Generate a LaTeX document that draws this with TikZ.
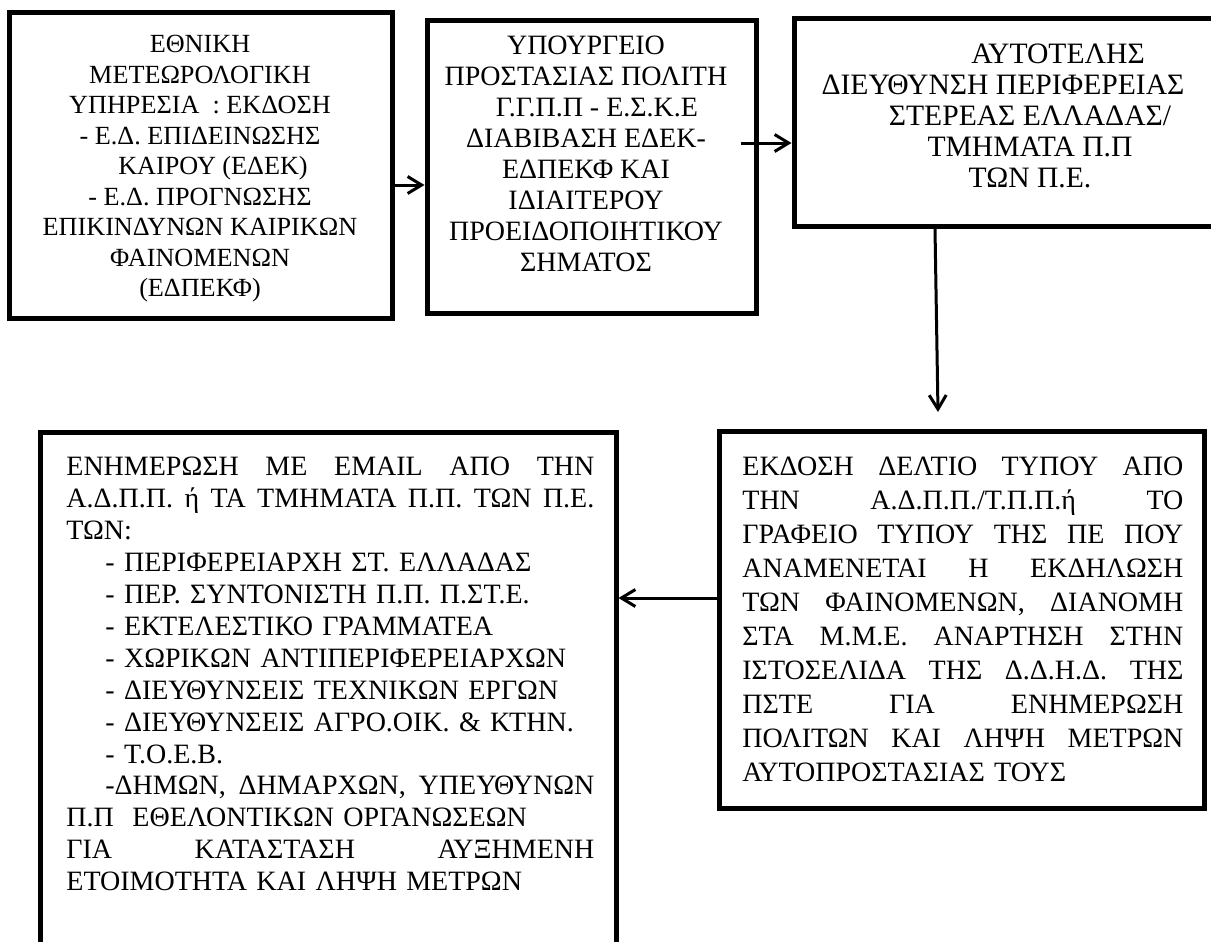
\documentclass[tikz,border=0pt]{standalone}
\usepackage{fontspec}
\setmainfont{Liberation Serif}
\usetikzlibrary{positioning,arrows.meta}

% one justified line: words are spread with \hfill
\newcommand{\jline}[1]{\hbox to \hsize{#1}}

\tikzset{
  panel/.style={draw, line width=2.5pt, inner sep=0pt},
  flow/.style={line width=1.5pt, -{Straight Barb[length=7pt,width=8.5pt]}},
  txt/.style 2 args={inner sep=0pt, font=\fontsize{#1}{#2}\selectfont},
}

\begin{document}
\begin{tikzpicture}[x=0.5pt, y=-0.5pt]
    \useasboundingbox (0,0) rectangle (1211,942);
    \clip (0,0) rectangle (1211,942);

    % Boxes
    \node[panel, minimum width=191.5pt, minimum height=153pt] (emy) at (200.5,165) {};
    \node[panel, minimum width=164.5pt, minimum height=146.5pt] (ggpp) at (591.5,166.5) {};
    \node[panel, minimum width=236pt, minimum height=104pt] (adpp) at (1030,122) {};
    \node[panel, minimum width=242.5pt, minimum height=188.5pt] (press) at (961.5,619.5) {};
    \node[panel, minimum width=288pt, minimum height=284pt] (email) at (328,716) {};

    % Texts of the top row
    \node[txt={13.1pt}{15.25pt}, align=center, anchor=north] (emy-txt) at (200,35) {%
        ΕΘΝΙΚΗ\\ ΜΕΤΕΩΡΟΛΟΓΙΚΗ\\ ΥΠΗΡΕΣΙΑ\ \ : ΕΚΔΟΣΗ\\ - Ε.Δ. ΕΠΙΔΕΙΝΩΣΗΣ\\
        \hspace*{13pt}ΚΑΙΡΟΥ (ΕΔΕΚ)\\ - Ε.Δ. ΠΡΟΓΝΩΣΗΣ\\ ΕΠΙΚΙΝΔΥΝΩΝ ΚΑΙΡΙΚΩΝ\\
        ΦΑΙΝΟΜΕΝΩΝ\\ (ΕΔΠΕΚΦ)};
    \node[txt={14pt}{15.5pt}, align=center, anchor=north] (ggpp-txt) at (586,36) {%
        ΥΠΟΥΡΓΕΙΟ\\ ΠΡΟΣΤΑΣΙΑΣ ΠΟΛΙΤΗ\\ \hspace*{11pt}Γ.Γ.Π.Π - Ε.Σ.Κ.Ε\\
        ΔΙΑΒΙΒΑΣΗ ΕΔΕΚ-\\ ΕΔΠΕΚΦ ΚΑΙ\\ ΙΔΙΑΙΤΕΡΟΥ\\ ΠΡΟΕΙΔΟΠΟΙΗΤΙΚΟΥ\\ ΣΗΜΑΤΟΣ};
    \node[txt={14.8pt}{15.6pt}, align=center, anchor=north] (adpp-txt) at (1030,43) {%
        \hspace*{28pt}ΑΥΤΟΤΕΛΗΣ\\ ΔΙΕΥΘΥΝΣΗ ΠΕΡΙΦΕΡΕΙΑΣ\rule{27pt}{0pt}\\
        ΣΤΕΡΕΑΣ ΕΛΛΑΔΑΣ/\\ ΤΜΗΜΑΤΑ Π.Π\\ ΤΩΝ Π.Ε.};

    % Texts of the bottom row (justified lines)
    \node[txt={14pt}{16.95pt}, text width=220.5pt, align=left, anchor=north west] (press-txt) at (742,457) {%
        \jline{ΕΚΔΟΣΗ\hfill ΔΕΛΤΙΟ\hfill ΤΥΠΟΥ\hfill ΑΠΟ}
        \jline{ΤΗΝ\hfill Α.Δ.Π.Π./Τ.Π.Π.ή\hfill ΤΟ}
        \jline{ΓΡΑΦΕΙΟ\hfill ΤΥΠΟΥ\hfill ΤΗΣ\hfill ΠΕ\hfill ΠΟΥ}
        \jline{ΑΝΑΜΕΝΕΤΑΙ\hfill Η\hfill ΕΚΔΗΛΩΣΗ}
        \jline{ΤΩΝ\hfill ΦΑΙΝΟΜΕΝΩΝ,\hfill ΔΙΑΝΟΜΗ}
        \jline{ΣΤΑ\hfill Μ.Μ.Ε.\hfill ΑΝΑΡΤΗΣΗ\hfill ΣΤΗΝ}
        \jline{ΙΣΤΟΣΕΛΙΔΑ\hfill ΤΗΣ\hfill Δ.Δ.Η.Δ.\hfill ΤΗΣ}
        \jline{ΠΣΤΕ\hfill ΓΙΑ\hfill ΕΝΗΜΕΡΩΣΗ}
        \jline{ΠΟΛΙΤΩΝ\hfill ΚΑΙ\hfill ΛΗΨΗ\hfill ΜΕΤΡΩΝ}
        \jline{ΑΥΤΟΠΡΟΣΤΑΣΙΑΣ ΤΟΥΣ\hfill}};
    \node[txt={14pt}{15.95pt}, text width=264pt, align=left, anchor=north west] (email-txt) at (66,457) {%
        \jline{ΕΝΗΜΕΡΩΣΗ\hfill ΜΕ\hfill EMAIL\hfill ΑΠΟ\hfill ΤΗΝ}
        \jline{Α.Δ.Π.Π.\hfill ή\hfill ΤΑ\hfill ΤΜΗΜΑΤΑ\hfill Π.Π.\hfill ΤΩΝ\hfill Π.Ε.}
        \jline{ΤΩΝ:\hfill}
        \jline{\hspace*{19.5pt}- ΠΕΡΙΦΕΡΕΙΑΡΧΗ ΣΤ. ΕΛΛΑΔΑΣ\hfill}
        \jline{\hspace*{19.5pt}- ΠΕΡ. ΣΥΝΤΟΝΙΣΤΗ Π.Π. Π.ΣΤ.Ε.\hfill}
        \jline{\hspace*{19.5pt}- ΕΚΤΕΛΕΣΤΙΚΟ ΓΡΑΜΜΑΤΕΑ\hfill}
        \jline{\hspace*{19.5pt}- ΧΩΡΙΚΩΝ ΑΝΤΙΠΕΡΙΦΕΡΕΙΑΡΧΩΝ\hfill}
        \jline{\hspace*{19.5pt}- ΔΙΕΥΘΥΝΣΕΙΣ ΤΕΧΝΙΚΩΝ ΕΡΓΩΝ\hfill}
        \jline{\hspace*{19.5pt}- ΔΙΕΥΘΥΝΣΕΙΣ ΑΓΡΟ.ΟΙΚ. \& ΚΤΗΝ.\hfill}
        \jline{\hspace*{19.5pt}- Τ.Ο.Ε.Β.\hfill}
        \jline{\hspace*{19.5pt}-ΔΗΜΩΝ,\hfill ΔΗΜΑΡΧΩΝ,\hfill ΥΠΕΥΘΥΝΩΝ}
        \jline{Π.Π\ \ ΕΘΕΛΟΝΤΙΚΩΝ ΟΡΓΑΝΩΣΕΩΝ\hfill}
        \jline{ΓΙΑ\hfill ΚΑΤΑΣΤΑΣΗ\hfill ΑΥΞΗΜΕΝΗ}
        \jline{ΕΤΟΙΜΟΤΗΤΑ ΚΑΙ ΛΗΨΗ ΜΕΤΡΩΝ\hfill}};

    % Arrows
    \draw[flow] ([yshift=-10pt]emy.east) -- ([yshift=-10pt]emy.east -| ggpp.west);
    \coordinate (ggpp-out) at ([xshift=-9pt, yshift=11.75pt]ggpp.east);
    \draw[flow] (ggpp-out) -- (ggpp-out -| adpp.west);
    \coordinate (drop) at (938,412);
    \draw[flow] ([xshift=-47.5pt]adpp.south) -- (drop);
    \draw[flow] ([yshift=10.75pt]press.west) -- ([yshift=10.75pt]press.west -| email.east);
\end{tikzpicture}
\end{document}
